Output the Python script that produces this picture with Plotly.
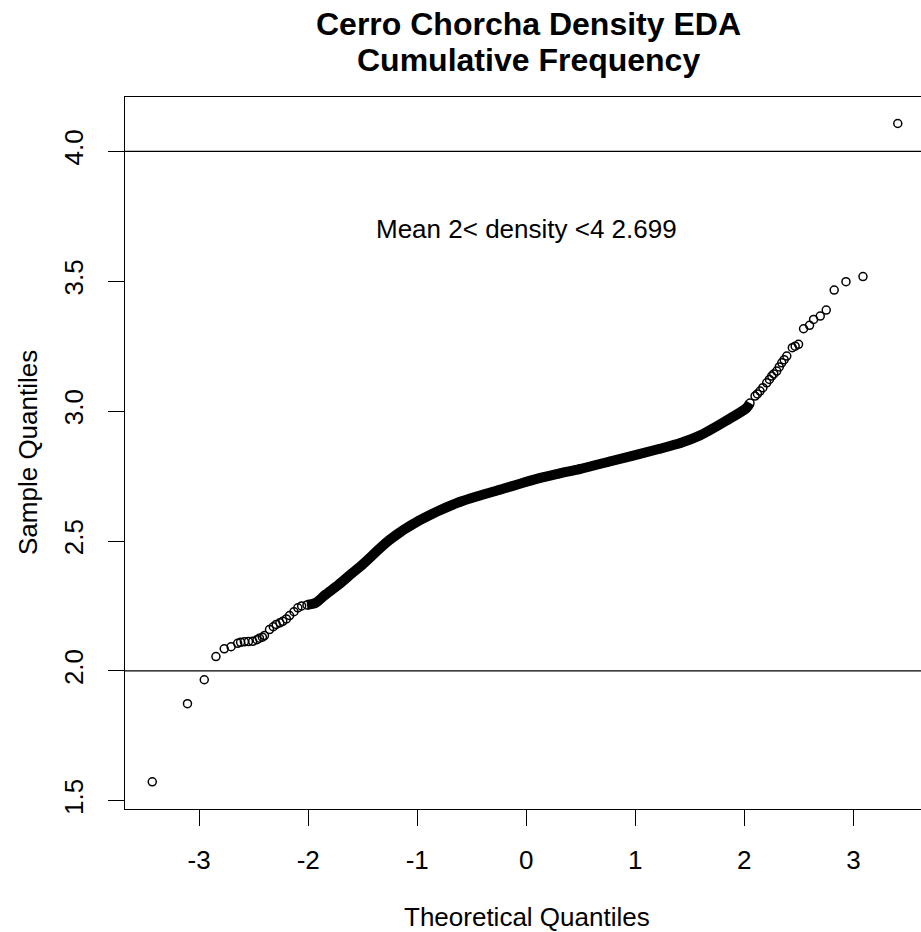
import plotly.graph_objects as go

# ---- data (theoretical quantile, sample quantile) ----
tail_lo_theo = [-3.43, -3.107, -2.953, -2.846, -2.77, -2.707, -2.647, -2.62, -2.585, -2.548,
                -2.509, -2.47, -2.447, -2.42, -2.401, -2.355, -2.32, -2.293, -2.26, -2.233,
                -2.20, -2.171, -2.13, -2.095, -2.06]
tail_lo_samp = [1.573, 1.874, 1.966, 2.055, 2.085, 2.093, 2.106, 2.110, 2.112, 2.113,
                2.114, 2.120, 2.126, 2.130, 2.136, 2.159, 2.170, 2.179, 2.185, 2.191,
                2.200, 2.213, 2.228, 2.243, 2.250]

body_theo = [-2.011, -1.935, -1.843, -1.721, -1.598, -1.506, -1.255, -0.980, -0.612, -0.245,
             0.122, 0.306, 0.489, 0.765, 1.224, 1.42, 1.591, 1.837, 2.020, 2.052]
body_samp = [2.254, 2.261, 2.293, 2.332, 2.376, 2.408, 2.504, 2.579, 2.650, 2.697,
             2.742, 2.760, 2.777, 2.806, 2.855, 2.878, 2.906, 2.964, 3.012, 3.031]

tail_hi_theo = [2.098, 2.12, 2.144, 2.17, 2.205, 2.23, 2.251, 2.27, 2.297, 2.32, 2.343,
                2.365, 2.389, 2.44, 2.466, 2.497, 2.543, 2.598, 2.635, 2.696, 2.751,
                2.824, 2.932, 3.088, 3.407]
tail_hi_samp = [3.058, 3.066, 3.077, 3.090, 3.109, 3.122, 3.135, 3.143, 3.154, 3.170, 3.186,
                3.198, 3.212, 3.244, 3.250, 3.257, 3.317, 3.330, 3.353, 3.366, 3.389,
                3.466, 3.498, 3.518, 4.107]

ref_lines = [2.0, 4.0]
mean_label = "Mean 2< density <4 2.699"
mean_pos = (0.0, 3.7)

x_ticks = [-3, -2, -1, 0, 1, 2, 3]
x_tick_text = ["-3", "-2", "-1", "0", "1", "2", "3"]
y_ticks = [1.5, 2.0, 2.5, 3.0, 3.5, 4.0]
y_tick_text = ["1.5", "2.0", "2.5", "3.0", "3.5", "4.0"]

title_lines = ["Cerro Chorcha Density EDA", "Cumulative Frequency"]
x_title = "Theoretical Quantiles"
y_title = "Sample Quantiles"

FONT = "Arial, 'Liberation Sans', sans-serif"

# ---- layout geometry ----
W, H = 921, 932
ML, MR, MT, MB = 125, 0, 97, 123
PW, PH = W - ML - MR, H - MT - MB

def px_x(p):
    return (p - ML) / PW

def px_y(p):
    return (H - MB - p) / PH

fig = go.Figure()

# dense band drawn as a thick line through the body points
fig.add_trace(go.Scatter(
    x=body_theo, y=body_samp, mode="lines",
    line=dict(color="black", width=10, shape="spline", smoothing=0.8),
    hoverinfo="skip", showlegend=False))

all_x = tail_lo_theo + body_theo + tail_hi_theo
all_y = tail_lo_samp + body_samp + tail_hi_samp
fig.add_trace(go.Scatter(
    x=all_x, y=all_y, mode="markers",
    marker=dict(symbol="circle-open", size=8, color="black", line=dict(width=1.5, color="black")),
    showlegend=False))

for v in ref_lines:
    fig.add_shape(type="line", xref="paper", x0=0, x1=1, yref="y", y0=v, y1=v,
                  line=dict(color="black", width=1.3))

annotations = [
    dict(text=mean_label, x=mean_pos[0], y=mean_pos[1], xref="x", yref="y",
         showarrow=False, font=dict(family=FONT, size=26, color="black"),
         xanchor="center", yanchor="middle"),
    dict(text="<b>%s</b>" % title_lines[0], x=px_x(528), y=px_y(24), xref="paper", yref="paper",
         showarrow=False, font=dict(family=FONT, size=32, color="black"),
         xanchor="center", yanchor="middle"),
    dict(text="<b>%s</b>" % title_lines[1], x=px_x(528), y=px_y(60), xref="paper", yref="paper",
         showarrow=False, font=dict(family=FONT, size=32, color="black"),
         xanchor="center", yanchor="middle"),
    dict(text=x_title, x=px_x(526.5), y=px_y(917), xref="paper", yref="paper",
         showarrow=False, font=dict(family=FONT, size=26, color="black"),
         xanchor="center", yanchor="middle"),
    dict(text=y_title, x=px_x(28), y=px_y(453), xref="paper", yref="paper",
         showarrow=False, font=dict(family=FONT, size=26, color="black"),
         xanchor="center", yanchor="middle", textangle=-90),
]

fig.update_layout(
    width=W, height=H,
    margin=dict(l=ML, r=MR, t=MT, b=MB, pad=0),
    paper_bgcolor="white", plot_bgcolor="white",
    showlegend=False,
    annotations=annotations,
    xaxis=dict(range=[-3.68, 3.62], tickmode="array", tickvals=x_ticks, ticktext=x_tick_text,
               ticks="outside", ticklen=16, tickwidth=1.3, tickcolor="black",
               showline=True, mirror=True, linecolor="black", linewidth=1.3,
               showgrid=False, zeroline=False,
               tickfont=dict(family=FONT, size=26, color="black"),
               ticklabelstandoff=12),
    yaxis=dict(range=[1.4685, 4.209], tickmode="array", tickvals=y_ticks, ticktext=y_tick_text,
               ticks="outside", ticklen=16, tickwidth=1.3, tickcolor="black",
               showline=True, mirror=False, linecolor="black", linewidth=1.3,
               showgrid=False, zeroline=False, tickangle=-90,
               tickfont=dict(family=FONT, size=26, color="black"),
               ticklabelstandoff=14),
)

fig.write_html("out.html")
